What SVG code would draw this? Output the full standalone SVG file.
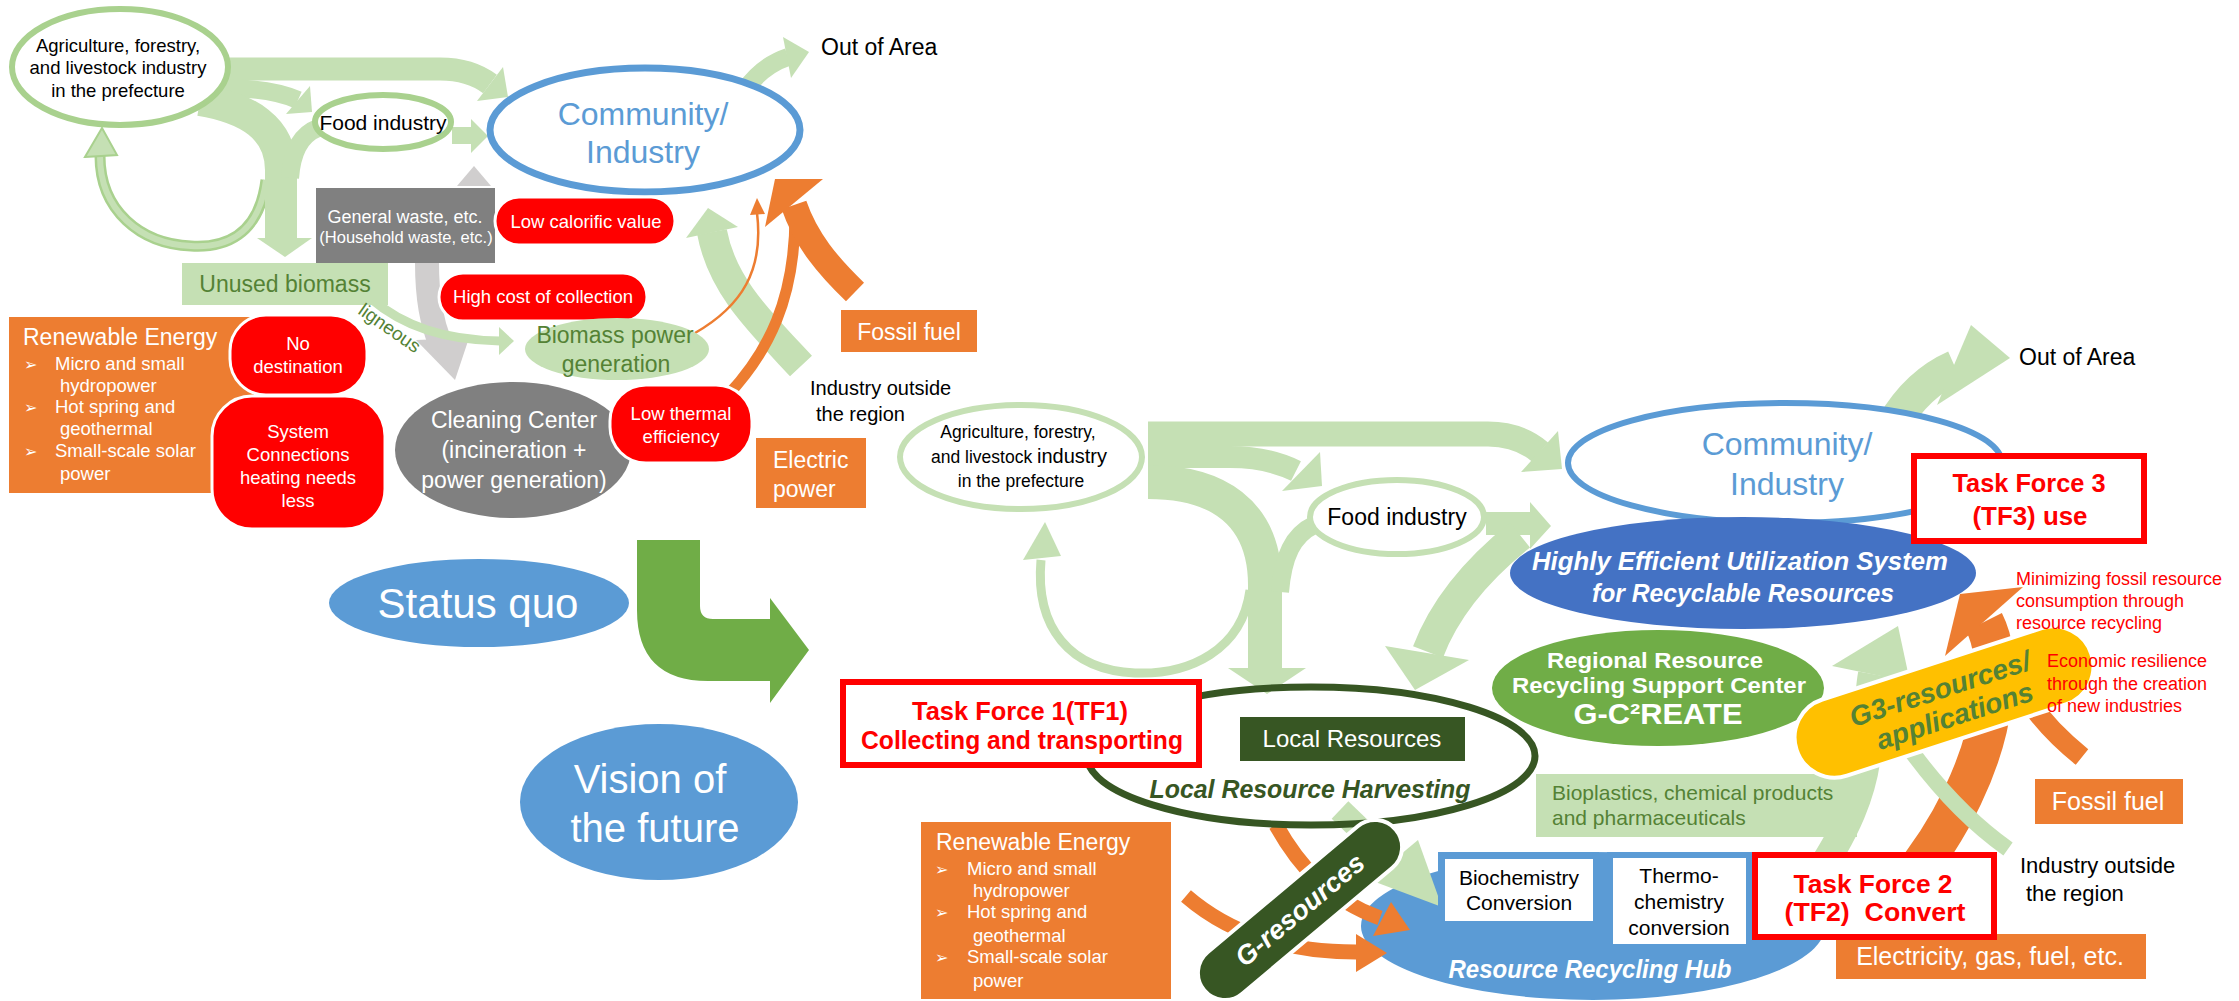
<svg xmlns="http://www.w3.org/2000/svg" width="2239" height="1001" viewBox="0 0 2239 1001">
<defs>
<style>
text{font-family:"Liberation Sans",Arial,sans-serif}
.c{text-anchor:middle}
.w{fill:#fff}
.bl{fill:#5b9bd5}
.dg{fill:#548235}
.b{font-weight:bold}
.it{font-style:italic}
.lgf{fill:#c5e0b4}
.lgs{fill:none;stroke:#c5e0b4}
.orf{fill:#ed7d31}
.ors{fill:none;stroke:#ed7d31}
.bad{fill:#ff0000;stroke:#fff;stroke-width:3}
.tf{fill:#fff;stroke:#ff0000;stroke-width:6}
.tft{fill:#ff0000;font-weight:bold;text-anchor:middle}
.bul{font-family:"DejaVu Sans",sans-serif}
.note{fill:#ff0000;font-size:18px}
</style>
</defs>
<rect width="2239" height="1001" fill="#fff"/>

<!-- hub sits below the incoming arrows -->
<g id="recycling-hub">
<ellipse cx="1593" cy="926" rx="232" ry="74" fill="#5b9bd5"/>
<text class="c w b it" font-size="26" x="1590" y="978" textLength="283" lengthAdjust="spacingAndGlyphs">Resource Recycling Hub</text>
</g>

<g id="connectors">
<!-- status quo to vision -->
<path d="M637,540 H700 V606 Q700,619 713,619 H770 V598 L809,650 L770,703 V681 H708 Q637,681 637,610 Z" fill="#70ad47"/>

<!-- status quo: loop back to agriculture -->
<path fill="none" stroke="#a9d18e" stroke-width="11" d="M266,180 C259,236 224,248 191,246 C140,244 100,210 100,156"/>
<path fill="none" stroke="#c5e0b4" stroke-width="6" d="M266,180 C259,236 224,248 191,246 C140,244 100,210 100,156"/>
<polygon fill="#c5e0b4" stroke="#a9d18e" stroke-width="2" points="85,157 117,155 102,128"/>
<!-- agriculture to community / food / unused biomass -->
<path class="lgs" stroke-width="23" d="M215,69 H440 C462,69 478,75 490,84"/>
<polygon class="lgf" points="477,101 503,67 508,97"/>
<path class="lgs" stroke-width="18" d="M222,88 C256,88 280,92 298,100"/>
<polygon class="lgf" points="286,114 310,86 312,112"/>
<path class="lgs" stroke-width="32" d="M200,100 C248,108 281,128 281,170 V240"/>
<path class="lgs" stroke-width="18" d="M318,128 C302,134 292,150 290,178"/>
<polygon class="lgf" points="257,238 312,238 285,257"/>
<polygon class="lgf" points="452,127 471,127 471,119 488,136 471,153 471,144 452,144"/>
<!-- general waste flows -->
<polygon fill="#d0cece" points="457,186 491,186 474,166"/>
<path fill="none" stroke="#d0cece" stroke-width="24" d="M427,262 C427,300 432,322 440,343"/>
<polygon fill="#d0cece" points="416,340 469,338 455,380"/>
<!-- ligneous -->
<path class="lgs" stroke-width="9" d="M370,298 C404,327 445,340 500,341"/>
<polygon class="lgf" points="499,327 499,355 514,341"/>
<!-- industry outside the region -->
<path class="lgs" stroke-width="30" d="M801,366 C760,322 722,286 712,232"/>
<polygon class="lgf" points="686,238 738,227 708,208"/>
<!-- energy supply -->
<path class="ors" stroke-width="2.5" d="M695,333 C742,306 764,270 757,213"/>
<polygon class="orf" points="750,215 765,214 757,198"/>
<path class="ors" stroke-width="11" d="M728,395 C768,352 795,300 795,215"/>
<path class="ors" stroke-width="26" d="M855,292 C828,266 806,240 794,205"/>
<polygon class="orf" points="765,227 823,179 775,179"/>
<!-- out of area -->
<path class="lgs" stroke-width="18" d="M745,90 C757,73 770,63 788,57"/>
<polygon class="lgf" points="783,37 809,52 791,78"/>

<!-- vision: agriculture outflows -->
<path class="lgs" stroke-width="25" d="M1148,434 H1488 C1510,434 1527,441 1540,452"/>
<polygon class="lgf" points="1521,472 1558,431 1562,469"/>
<path class="lgs" stroke-width="22" d="M1148,457 H1230 C1258,457 1278,462 1296,471"/>
<polygon class="lgf" points="1282,491 1320,452 1322,486"/>
<path class="lgs" stroke-width="9" d="M1250,590 C1242,650 1190,675 1135,673 C1070,670 1035,628 1041,560"/>
<polygon class="lgf" points="1023,560 1061,556 1045,522"/>
<path class="lgs" stroke-width="34" d="M1148,482 C1215,482 1265,510 1265,585 V670"/>
<path class="lgs" stroke-width="18" d="M1314,525 C1293,535 1283,556 1280,592"/>
<polygon class="lgf" points="1228,668 1306,668 1267,694"/>
<polygon class="lgf" points="1486,512 1530,512 1530,502 1551,526 1530,549 1530,535 1486,535"/>
<!-- utilization back to harvesting -->
<path class="lgs" stroke-width="32" d="M1520,535 C1470,575 1442,615 1428,652"/>
<polygon class="lgf" points="1385,646 1469,660 1415,690"/>
<!-- out of area -->
<path class="lgs" stroke-width="34" d="M1893,425 C1910,396 1930,378 1955,367"/>
<polygon class="lgf" points="1971,325 2010,358 1937,405"/>
<!-- conversion outputs -->
<path class="ors" stroke-width="40" d="M1905,885 C1950,832 1985,762 1992,700 C1996,662 1994,642 1984,622"/>
<polygon class="orf" points="1945,656 2023,587 1960,594"/>
<path class="ors" stroke-width="20" d="M2082,757 C2062,741 2043,722 2028,700"/>
<path class="lgs" stroke-width="28" d="M1810,885 C1845,835 1866,790 1868,742 C1869,712 1868,695 1872,674"/>
<polygon class="lgf" points="1832,666 1910,682 1898,626"/>
<path class="lgs" stroke-width="16" d="M1912,752 C1940,790 1970,822 2008,849"/>
<!-- harvesting and renewables into the hub -->
<path class="lgs" stroke-width="24" d="M1340,810 L1394,862"/>
<polygon class="lgf" points="1370,880 1418,840 1442,907"/>
<path class="ors" stroke-width="15" d="M1276,825 C1300,868 1330,900 1380,918"/>
<polygon class="orf" points="1373,936 1391,902 1410,930"/>
<path class="ors" stroke-width="15" d="M1186,896 C1230,934 1285,952 1356,952"/>
<polygon class="orf" points="1356,934 1356,972 1387,953"/>
</g>

<!-- ===== status quo ===== -->
<g id="agriculture-1">
<ellipse cx="120" cy="67" rx="108" ry="58" fill="#fff" stroke="#a9d18e" stroke-width="6"/>
<text class="c" font-size="18.5" x="118" y="52">Agriculture, forestry,</text>
<text class="c" font-size="18.5" x="118" y="74">and livestock industry</text>
<text class="c" font-size="18.5" x="118" y="97">in the prefecture</text>
</g>
<g id="food-1">
<ellipse cx="383" cy="122" rx="68" ry="27" fill="#fff" stroke="#a9d18e" stroke-width="6"/>
<text class="c" font-size="21" x="383" y="130">Food industry</text>
</g>
<g id="community-1">
<ellipse cx="645" cy="130" rx="155" ry="62" fill="#fff" stroke="#5b9bd5" stroke-width="7"/>
<text class="c bl" font-size="32" x="643" y="125">Community/</text>
<text class="c bl" font-size="32" x="643" y="163">Industry</text>
</g>
<g id="out-of-area-1"><text font-size="23" x="821" y="55">Out of Area</text></g>
<g id="general-waste">
<rect x="316" y="188" width="179" height="75" fill="#808080"/>
<text class="c w" font-size="18" x="405" y="223">General waste, etc.</text>
<text class="c w" font-size="16.5" x="406" y="243">(Household waste, etc.)</text>
</g>
<g id="low-calorific">
<rect class="bad" x="495" y="197" width="180" height="48" rx="24"/>
<text class="c w" font-size="18.5" x="586" y="228">Low calorific value</text>
</g>
<g id="high-cost">
<rect class="bad" x="439" y="273" width="208" height="48" rx="24"/>
<text class="c w" font-size="18.5" x="543" y="303">High cost of collection</text>
</g>
<g id="unused-biomass">
<rect x="182" y="263" width="206" height="42" fill="#c5e0b4"/>
<text class="c dg" font-size="23" x="285" y="292">Unused biomass</text>
</g>
<g id="ligneous-label"><text class="dg" font-size="19" transform="translate(357,313) rotate(35)">ligneous</text></g>
<g id="biomass-power">
<ellipse cx="617" cy="349" rx="92" ry="31" fill="#c5e0b4"/>
<text class="c dg" font-size="23" x="615" y="343">Biomass power</text>
<text class="c dg" font-size="23" x="616" y="372">generation</text>
</g>
<g id="renewable-1">
<rect x="9" y="317" width="245" height="176" fill="#ed7d31"/>
<text class="w" font-size="23" x="23" y="345">Renewable Energy</text>
<g class="w" font-size="18.5">
<text class="bul" font-size="16" x="24" y="370">➢</text>
<text x="55" y="370">Micro and small</text>
<text x="60" y="392">hydropower</text>
<text class="bul" font-size="16" x="24" y="413">➢</text>
<text x="55" y="413">Hot spring and</text>
<text x="60" y="435">geothermal</text>
<text class="bul" font-size="16" x="24" y="457">➢</text>
<text x="55" y="457">Small-scale solar</text>
<text x="60" y="480">power</text>
</g>
</g>
<g id="no-destination">
<rect class="bad" x="230" y="315" width="137" height="80" rx="36"/>
<text class="c w" font-size="18.5" x="298" y="350">No</text>
<text class="c w" font-size="18.5" x="298" y="373">destination</text>
</g>
<g id="system-connections">
<rect class="bad" x="212" y="396" width="173" height="133" rx="40"/>
<text class="c w" font-size="18.5" x="298" y="438">System</text>
<text class="c w" font-size="18.5" x="298" y="461">Connections</text>
<text class="c w" font-size="18.5" x="298" y="484">heating needs</text>
<text class="c w" font-size="18.5" x="298" y="507">less</text>
</g>
<g id="cleaning-center">
<ellipse cx="513" cy="450" rx="118" ry="68" fill="#808080"/>
<text class="c w" font-size="23" x="514" y="428">Cleaning Center</text>
<text class="c w" font-size="23" x="514" y="458">(incineration +</text>
<text class="c w" font-size="23" x="514" y="488">power generation)</text>
</g>
<g id="low-thermal">
<rect class="bad" x="610" y="385" width="142" height="78" rx="36"/>
<text class="c w" font-size="18.5" x="681" y="420">Low thermal</text>
<text class="c w" font-size="18.5" x="681" y="443">efficiency</text>
</g>
<g id="fossil-fuel-1">
<rect x="841" y="310" width="136" height="42" fill="#ed7d31"/>
<text class="c w" font-size="23" x="909" y="340">Fossil fuel</text>
</g>
<g id="electric-power">
<rect x="756" y="438" width="110" height="70" fill="#ed7d31"/>
<text class="w" font-size="23" x="773" y="468">Electric</text>
<text class="w" font-size="23" x="773" y="497">power</text>
</g>
<g id="industry-outside-1">
<text font-size="20" x="810" y="395">Industry outside</text>
<text font-size="20" x="816" y="421">the region</text>
</g>

<!-- ===== transition ===== -->
<g id="status-quo">
<ellipse cx="479" cy="603" rx="150" ry="44" fill="#5b9bd5"/>
<text class="c w" font-size="42" x="478" y="618">Status quo</text>
</g>
<g id="vision">
<ellipse cx="659" cy="802" rx="139" ry="78" fill="#5b9bd5"/>
<text class="c w" font-size="40" x="650" y="793">Vision of</text>
<text class="c w" font-size="40" x="655" y="842">the future</text>
</g>

<!-- ===== vision of the future ===== -->
<g id="agriculture-2">
<ellipse cx="1021" cy="457" rx="121" ry="52" fill="#fff" stroke="#c5e0b4" stroke-width="6"/>
<text class="c" font-size="17.5" x="1018" y="438">Agriculture, forestry,</text>
<text class="c" font-size="17.5" x="1019" y="463">and livestock <tspan font-size="20">industry</tspan></text>
<text class="c" font-size="17.5" x="1021" y="487">in the prefecture</text>
</g>
<g id="food-2">
<ellipse cx="1397" cy="517" rx="87" ry="37" fill="#fff" stroke="#c5e0b4" stroke-width="6"/>
<text class="c" font-size="23" x="1397" y="525">Food industry</text>
</g>
<g id="community-2">
<ellipse cx="1785" cy="463" rx="217" ry="60" fill="#fff" stroke="#5b9bd5" stroke-width="6"/>
<text class="c bl" font-size="32" x="1787" y="455">Community/</text>
<text class="c bl" font-size="32" x="1787" y="495">Industry</text>
</g>
<g id="out-of-area-2"><text font-size="23" x="2019" y="365">Out of Area</text></g>
<g id="utilization-system">
<ellipse cx="1743" cy="573" rx="233" ry="56" fill="#4472c4"/>
<text class="c w b it" font-size="25.5" x="1740" y="570" textLength="416" lengthAdjust="spacingAndGlyphs">Highly Efficient Utilization System</text>
<text class="c w b it" font-size="25.5" x="1743" y="602" textLength="302" lengthAdjust="spacingAndGlyphs">for Recyclable Resources</text>
</g>
<g id="task-force-3">
<rect class="tf" x="1914" y="456" width="230" height="85"/>
<text class="tft" font-size="26" x="2029" y="492" textLength="153" lengthAdjust="spacingAndGlyphs">Task Force 3</text>
<text class="tft" font-size="26" x="2030" y="525" textLength="115" lengthAdjust="spacingAndGlyphs">(TF3) use</text>
</g>
<g id="support-center">
<ellipse cx="1658" cy="688" rx="166" ry="58" fill="#70ad47"/>
<text class="c w b" font-size="22" x="1655" y="668" textLength="216" lengthAdjust="spacingAndGlyphs">Regional Resource</text>
<text class="c w b" font-size="22" x="1659" y="693" textLength="294" lengthAdjust="spacingAndGlyphs">Recycling Support Center</text>
<text class="c w b" font-size="29" x="1658" y="724" textLength="169" lengthAdjust="spacingAndGlyphs">G-C²REATE</text>
</g>
<g id="local-harvesting">
<ellipse cx="1311" cy="756" rx="224" ry="69" fill="none" stroke="#375623" stroke-width="7"/>
<text class="c b it" fill="#375623" font-size="26" x="1310" y="798" textLength="321" lengthAdjust="spacingAndGlyphs">Local Resource Harvesting</text>
</g>
<g id="local-resources">
<rect x="1240" y="717" width="225" height="44" fill="#375623"/>
<text class="c w" font-size="24" x="1352" y="747">Local Resources</text>
</g>
<g id="task-force-1">
<rect class="tf" x="843" y="682" width="356" height="83"/>
<text class="tft" font-size="26" x="1020" y="720" textLength="216" lengthAdjust="spacingAndGlyphs">Task Force 1(TF1)</text>
<text class="tft" font-size="26" x="1022" y="749" textLength="322" lengthAdjust="spacingAndGlyphs">Collecting and transporting</text>
</g>
<g id="renewable-2">
<rect x="921" y="822" width="250" height="177" fill="#ed7d31"/>
<text class="w" font-size="23" x="936" y="850">Renewable Energy</text>
<g class="w" font-size="18.5">
<text class="bul" font-size="16" x="935" y="875">➢</text>
<text x="967" y="875">Micro and small</text>
<text x="973" y="897">hydropower</text>
<text class="bul" font-size="16" x="935" y="918">➢</text>
<text x="967" y="918">Hot spring and</text>
<text x="973" y="942">geothermal</text>
<text class="bul" font-size="16" x="935" y="963">➢</text>
<text x="967" y="963">Small-scale solar</text>
<text x="973" y="987">power</text>
</g>
</g>
<g id="bioproducts">
<rect x="1536" y="774" width="321" height="63" fill="#c5e0b4"/>
<text class="dg" font-size="21" x="1552" y="800">Bioplastics, chemical products</text>
<text class="dg" font-size="21" x="1552" y="825">and pharmaceuticals</text>
</g>
<g id="biochemistry">
<rect x="1438" y="852" width="161" height="75" fill="#5b9bd5"/>
<rect x="1445" y="859" width="148" height="62" fill="#fff"/>
<text class="c" font-size="21" x="1519" y="885">Biochemistry</text>
<text class="c" font-size="21" x="1519" y="910">Conversion</text>
</g>
<g id="thermochemistry">
<rect x="1607" y="852" width="145" height="95" fill="#5b9bd5"/>
<rect x="1613" y="858" width="133" height="86" fill="#fff"/>
<text class="c" font-size="21" x="1679" y="883">Thermo-</text>
<text class="c" font-size="21" x="1679" y="909">chemistry</text>
<text class="c" font-size="21" x="1679" y="935">conversion</text>
</g>
<g id="g-resources" transform="translate(1300,910) rotate(-40)">
<rect x="-125" y="-27" width="250" height="54" rx="27" fill="#375623" stroke="#fff" stroke-width="4"/>
<text class="c w b it" font-size="27" x="0" y="9">G-resources</text>
</g>
<g id="g3-applications" transform="translate(1944,702) rotate(-18)">
<rect x="-155" y="-40" width="310" height="80" rx="40" fill="#ffc000" stroke="#fff" stroke-width="4"/>
<text class="c dg b it" font-size="28" x="0" y="-4">G3-resources/</text>
<text class="c dg b it" font-size="28" x="6" y="26">applications</text>
</g>
<!-- goal notes lie over the pill's right end -->
<g id="goal-fossil">
<text class="note" x="2016" y="585">Minimizing fossil resource</text>
<text class="note" x="2016" y="607">consumption through</text>
<text class="note" x="2016" y="629">resource recycling</text>
</g>
<g id="goal-resilience">
<text class="note" x="2047" y="667">Economic resilience</text>
<text class="note" x="2047" y="690">through the creation</text>
<text class="note" x="2047" y="712">of new industries</text>
</g>
<g id="energy-products">
<rect x="1836" y="934" width="310" height="45" fill="#ed7d31"/>
<text class="c w" font-size="25" x="1990" y="965">Electricity, gas, fuel, etc.</text>
</g>
<g id="task-force-2">
<rect class="tf" x="1755" y="855" width="239" height="82"/>
<text class="tft" font-size="26" x="1873" y="893" textLength="159" lengthAdjust="spacingAndGlyphs">Task Force 2</text>
<text class="tft" font-size="26" x="1875" y="921" textLength="181" lengthAdjust="spacingAndGlyphs" xml:space="preserve">(TF2)  Convert</text>
</g>
<g id="fossil-fuel-2">
<rect x="2035" y="779" width="148" height="45" fill="#ed7d31"/>
<text class="c w" font-size="25" x="2108" y="810">Fossil fuel</text>
</g>
<g id="industry-outside-2">
<text font-size="22" x="2020" y="873">Industry outside</text>
<text font-size="22" x="2026" y="901">the region</text>
</g>
</svg>
